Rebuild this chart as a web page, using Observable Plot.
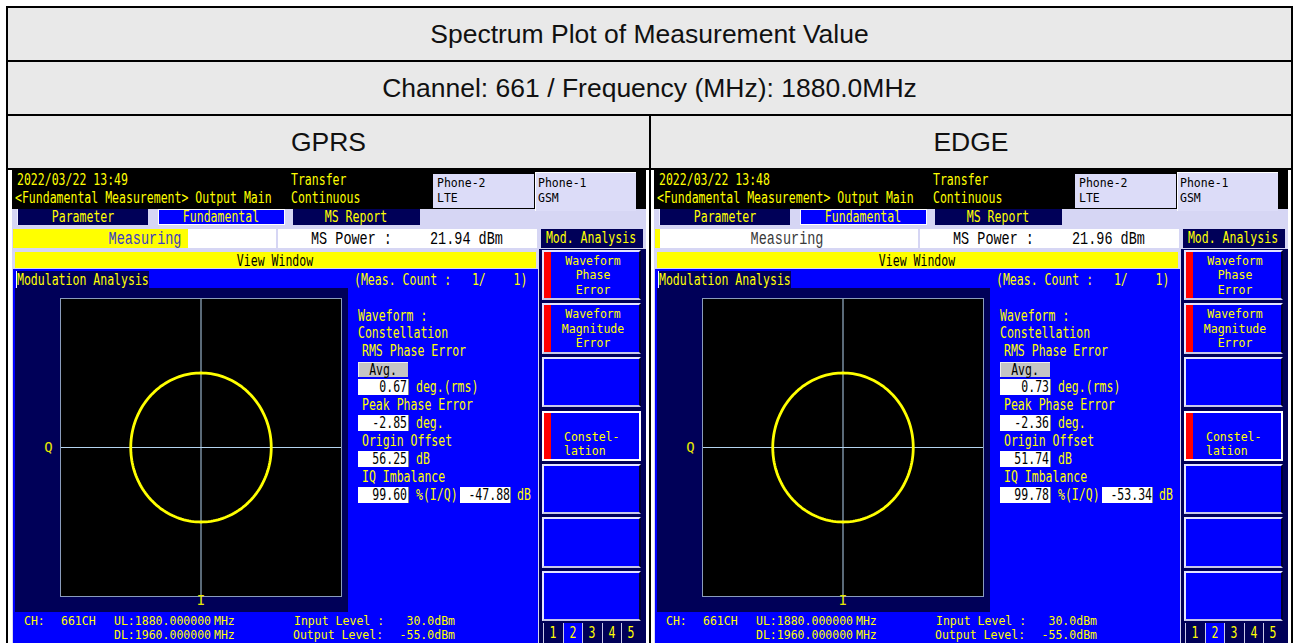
<!DOCTYPE html>
<html><head><meta charset="utf-8">
<script src="https://cdn.jsdelivr.net/npm/d3@7"></script>
<script src="https://cdn.jsdelivr.net/npm/@observablehq/plot@0.6"></script>
<style>
html,body{margin:0;padding:0;background:#fff;}
body{width:1293px;height:643px;position:relative;overflow:hidden;font-family:"Liberation Sans",Arial,sans-serif;}
.cell{position:absolute;background:#e9e9e9;display:flex;align-items:center;justify-content:center;font-size:26.5px;color:#111;}
.line{position:absolute;background:#000;}
.shot{position:absolute;top:170px;width:634px;height:473px;overflow:hidden;background:#d6d6f4;}
.b{position:absolute;box-sizing:border-box;}
.t{position:absolute;white-space:pre;font-family:"DejaVu Sans Mono",monospace;font-size:15px;line-height:12px;color:#ffff00;}
.L{font-family:"Liberation Mono",monospace;font-size:19px;line-height:15px;color:#000;}
</style></head><body>
<script>
// ---------------- data ----------------
const title = "Spectrum Plot of Measurement Value";
const subtitle = "Channel: 661 / Frequency (MHz): 1880.0MHz";
const modes = ["GPRS", "EDGE"];
const timestamps = ["2022/03/22 13:49", "2022/03/22 13:48"];
const msPowerDbm = [21.94, 21.96];
const rmsPhaseErrorDeg = [0.67, 0.73];
const peakPhaseErrorDeg = [-2.85, -2.36];
const originOffsetDb = [56.25, 51.74];
const iqImbalancePct = [99.60, 99.78];
const iqImbalanceDb = [-47.88, -53.34];
const constellationMagnitude = [1.0, 1.0];      // constant-envelope ring radius
const iqDomain = [-2, 2];                         // I and Q axis extent
const phaseDeg = d3.range(0, 361, 2);             // phase positions around the ring
const axisLabels = {I: "I", Q: "Q"};
const softKeys = [["Waveform","Phase","Error"],["Waveform","Magnitude","Error"],[],["Constel-","lation"],[],[],[]];
const softKeyFlag = [true, true, false, true, false, false, false];
const pageTabs = ["1","2","3","4","5"];
const channel = "661CH";
const ulFreq = "1880.000000", dlFreq = "1960.000000";
const inputLevel = "30.0dBm", outputLevel = "-55.0dBm";

// ---------------- page frame ----------------
function div(cls, css, text) {
  const d = document.createElement("div");
  d.className = cls; d.style.cssText = css; if (text != null) d.textContent = text;
  document.body.appendChild(d); return d;
}
div("cell", "left:8px;top:8px;width:1283px;height:52px;", title);
div("cell", "left:8px;top:62px;width:1283px;height:52px;", subtitle);
div("cell", "left:8px;top:116px;width:641px;height:52px;", modes[0]);
div("cell", "left:651px;top:116px;width:640px;height:52px;", modes[1]);
[["left:6px;top:6px;width:1287px;height:2px"],["left:6px;top:60px;width:1287px;height:2px"],
 ["left:6px;top:114px;width:1287px;height:2px"],["left:6px;top:168px;width:1287px;height:2px"],
 ["left:6px;top:6px;width:2px;height:640px"],["left:1291px;top:6px;width:2px;height:640px"],
 ["left:649px;top:116px;width:2px;height:530px"]].forEach(([c]) => div("line", c));

// ---------------- instrument screen ----------------
const OX = 12, OY = 170;
const NAVY = "#000058", BLUE = "#0000ff", YEL = "#ffff00";
const CHAR_W = 6.93;
function B(p, x1, y1, x2, y2, css) {
  const d = document.createElement("div");
  d.className = "b";
  d.style.cssText = `left:${x1-OX}px;top:${y1-OY}px;width:${x2-x1}px;height:${y2-y1}px;${css||""}`;
  p.appendChild(d); return d;
}
function T(p, x, y, s, anchor, cls, color, size) {
  const d = document.createElement("div");
  d.className = "t " + (cls || "");
  d.textContent = s;
  d.style.left = (x - OX) + "px"; d.style.top = (y - OY) + "px";
  const tx = anchor === "middle" ? "-50%" : anchor === "end" ? "-100%" : "0";
  const ox = anchor === "middle" ? "center" : anchor === "end" ? "right" : "left";
  let sx = cls === "L" ? 0.71 : 0.768;
  if (size) { d.style.fontSize = size + "px"; sx = Math.min(1, CHAR_W / (size * 0.602)); }
  d.style.transformOrigin = ox + " center";
  d.style.transform = `translate(${tx},-50%) scaleX(${sx})`;
  if (color) d.style.color = color;
  p.appendChild(d); return d;
}
const fmt2 = v => v.toFixed(2);

function constellation(i) {
  const m = constellationMagnitude[i];
  const ring = phaseDeg.map(a => ({I: m * Math.cos(a * Math.PI / 180), Q: m * Math.sin(a * Math.PI / 180)}));
  return Plot.plot({
    width: 333, height: 324,
    marginLeft: 45, marginRight: 7, marginTop: 10, marginBottom: 16,
    style: {background: "transparent", fontFamily: "DejaVu Sans Mono", fontSize: "14px", overflow: "visible"},
    x: {domain: iqDomain, axis: null},
    y: {domain: iqDomain, axis: null},
    marks: [
      Plot.frame({fill: "#000000"}),
      Plot.ruleX([0], {stroke: "#b4d4f0", strokeWidth: 1}),
      Plot.ruleY([0], {stroke: "#b4d4f0", strokeWidth: 1}),
      Plot.line(ring, {x: "I", y: "Q", stroke: "#ffff00", strokeWidth: 2.8}),
      Plot.frame({stroke: "#8a9cbc"}),
      Plot.text([{I: 0, t: axisLabels.I}], {x: "I", text: "t", frameAnchor: "bottom", dy: 8, textAnchor: "middle", fill: "#e8e800"}),
      Plot.text([{Q: 0, t: axisLabels.Q}], {y: "Q", text: "t", frameAnchor: "left", dx: -12, textAnchor: "middle", fill: "#e8e800"})
    ]
  });
}

function screen(i, left) {
  const p = document.createElement("div");
  p.className = "shot"; p.style.left = left + "px";
  document.body.appendChild(p);
  // header
  B(p, 12, 170, 646, 209, "background:#000");
  T(p, 17, 180, timestamps[i]);
  T(p, 15, 198, "<Fundamental Measurement> Output Main");
  T(p, 291, 180, "Transfer"); T(p, 291, 198, "Continuous");
  B(p, 433, 174, 534, 208, "background:#dcdcf8");
  T(p, 437, 183, "Phone-2", "start", "", "#000", 12.5); T(p, 437, 198, "LTE", "start", "", "#000", 12.5);
  B(p, 535, 172, 636, 211, "background:#dcdcf8;border-top:1px solid #fff;border-left:1px solid #fff");
  T(p, 538, 183, "Phone-1", "start", "", "#000", 12.5); T(p, 538, 198, "GSM", "start", "", "#000", 12.5);
  // tabs
  B(p, 17, 209, 148, 225, `background:${NAVY};border-left:1px solid #eef`);
  T(p, 83, 217, "Parameter", "middle");
  B(p, 158, 209, 285, 225, `background:${BLUE};border:1px solid #fff`);
  T(p, 221, 217, "Fundamental", "middle");
  B(p, 293, 209, 420, 225, `background:${NAVY}`);
  T(p, 356, 217, "MS Report", "middle");
  // status row
  if (i === 0) B(p, 13, 229, 188, 248, `background:${YEL}`);
  else { B(p, 13, 229, 188, 248, "background:#fff"); B(p, 13, 229, 18, 248, `background:${YEL}`); }
  B(p, 188, 229, 276, 248, "background:#fff");
  B(p, 278, 229, 537, 248, "background:#fff");
  T(p, 145, 239, "Measuring", "middle", "L", i === 0 ? "#3c3cc4" : "#3a3a3a");
  T(p, 311, 239, "MS Power :", "start", "L");
  T(p, 430, 239, fmt2(msPowerDbm[i]) + " dBm", "start", "L");
  B(p, 539, 249, 646, 643, `background:${NAVY}`);
  B(p, 541, 229, 643, 248, `background:${NAVY}`);
  T(p, 591, 238, "Mod. Analysis", "middle");
  B(p, 15, 252, 536, 268, `background:${YEL}`);
  T(p, 275, 261, "View Window", "middle", "", "#000");
  // blue panel
  B(p, 13, 269, 538, 643, `background:${BLUE}`);
  B(p, 16, 271, 149, 288, `background:${NAVY};border-left:1px solid #fff`);
  T(p, 17, 280, "Modulation Analysis");
  T(p, 354, 280, "(Meas. Count :   1/    1)");
  const nav = B(p, 15, 288, 348, 612, `background:${NAVY}`);
  const fig = constellation(i);
  fig.style.position = "absolute"; fig.style.left = "0px"; fig.style.top = "0px";
  nav.appendChild(fig);
  // readouts
  T(p, 358, 316, "Waveform :");
  T(p, 358, 333, "Constellation");
  T(p, 362, 351, "RMS Phase Error");
  B(p, 358, 362, 408, 377, "background:#c4c4c4;border-top:1px solid #eee;border-left:1px solid #eee");
  T(p, 383, 370, "Avg.", "middle", "", "#000");
  const valBox = (y, v, unit) => {
    B(p, 358, y - 8, 409, y + 8, "background:#fff;border-right:1px solid #888");
    T(p, 407, y, v, "end", "", "#000");
    T(p, 416, y, unit);
  };
  valBox(387, fmt2(rmsPhaseErrorDeg[i]), "deg.(rms)");
  T(p, 362, 405, "Peak Phase Error");
  valBox(423, fmt2(peakPhaseErrorDeg[i]), "deg.");
  T(p, 362, 441, "Origin Offset");
  valBox(459, fmt2(originOffsetDb[i]), "dB");
  T(p, 362, 477, "IQ Imbalance");
  valBox(495, fmt2(iqImbalancePct[i]), "%(I/Q)");
  B(p, 460, 487, 511, 503, "background:#fff;border-right:1px solid #888");
  T(p, 510, 495, fmt2(iqImbalanceDb[i]), "end", "", "#000");
  T(p, 517, 495, "dB");
  // bottom info
  const bs = 13, by2 = 635;
  T(p, 24, 621, "CH:", "start", "", null, bs); T(p, 61, 621, channel, "start", "", null, bs);
  T(p, 114, 621, "UL:" + ulFreq, "start", "", null, bs); T(p, 214, 621, "MHz", "start", "", null, bs);
  T(p, 114, by2, "DL:" + dlFreq, "start", "", null, bs); T(p, 214, by2, "MHz", "start", "", null, bs);
  T(p, 294, 621, "Input Level :", "start", "", null, bs); T(p, 455, 621, inputLevel, "end", "", null, bs);
  T(p, 293, by2, "Output Level:", "start", "", null, bs); T(p, 455, by2, outputLevel, "end", "", null, bs);
  // soft keys
  const rows = [[250,300],[303,354],[357,407],[411,461],[464,514],[517,568],[571,621]];
  rows.forEach(([y1, y2], k) => {
    const sel = k === 3;
    B(p, 542, y1, 641, y2, `background:${BLUE};border:2px solid ${sel ? "#fff" : "#e4e4ff"};${sel ? "" : "border-right-color:#000030;border-bottom-color:#c8c8e8"}`);
    if (softKeyFlag[k]) B(p, 544, y1 + 2, 551, y2 - 2, "background:#ff0000");
    const lines = softKeys[k], mid = (y1 + y2) / 2;
    if (lines.length === 3) lines.forEach((s, j) => T(p, 593, mid + (j - 1) * 14.5, s, "middle", "", null, 12));
    else if (lines.length === 2) lines.forEach((s, j) => T(p, 564, mid + 1 + j * 14, s, "start", "", null, 12));
  });
  pageTabs.forEach((s, k) => {
    const x1 = 543 + k * 19.6;
    B(p, x1, 623, x1 + 19.6, 646, `background:${k === 1 ? BLUE : NAVY};border-left:1px solid #c8c8e8`);
    T(p, x1 + 10, 633, s, "middle", "", "#ffff00", 15);
  });
}
screen(0, 12);
screen(1, 654);
</script>
</body></html>
